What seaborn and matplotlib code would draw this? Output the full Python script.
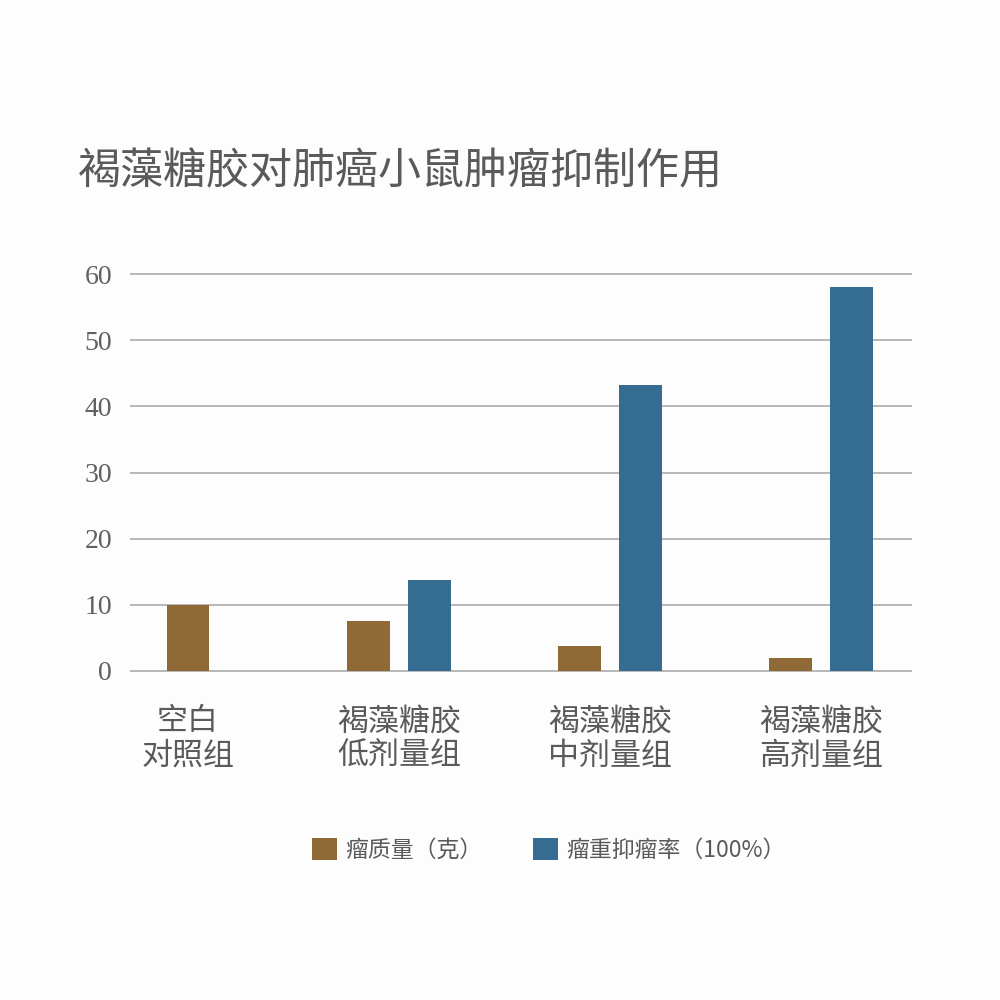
import numpy as np
import pandas as pd
import matplotlib
matplotlib.use("Agg")
import matplotlib.pyplot as plt
import seaborn as sns
from matplotlib.patches import Patch

# ---- data ----
title = "褐藻糖胶对肺癌小鼠肿瘤抑制作用"
categories = ["空白\n对照组", "褐藻糖胶\n低剂量组", "褐藻糖胶\n中剂量组", "褐藻糖胶\n高剂量组"]
series_names = ["瘤质量（克）", "瘤重抑瘤率（100%）"]
tumor_mass = [10.0, 7.5, 3.8, 2.0]
inhibition_rate = [np.nan, 13.7, 43.2, 58.0]
y_ticks = [0, 10, 20, 30, 40, 50, 60]

# ---- style ----
brown = "#8F6A37"
blue = "#356C91"
bg = "#FDFDFD"
text_color = "#5A5A5A"
grid_color = "#ABABAB"

sns.set_theme(style="white")
plt.rcParams["font.family"] = ["Noto Sans CJK SC", "DejaVu Sans"]

fig = plt.figure(figsize=(10, 10), dpi=100, facecolor=bg)
ax = fig.add_axes([0.130, 0.3257, 0.782, 0.4069])
ax.set_facecolor(bg)

paired = [i for i in range(len(categories)) if not np.isnan(inhibition_rate[i])]
single = [i for i in range(len(categories)) if np.isnan(inhibition_rate[i])]

df_pair = pd.DataFrame({
    "group": [categories[i] for i in paired] * 2,
    "series": [series_names[0]] * len(paired) + [series_names[1]] * len(paired),
    "value": [tumor_mass[i] for i in paired] + [inhibition_rate[i] for i in paired],
})
df_single = pd.DataFrame({
    "group": [categories[i] for i in single],
    "value": [tumor_mass[i] for i in single],
})

sns.barplot(data=df_pair, x="group", y="value", hue="series", order=categories,
            hue_order=series_names, palette=[brown, blue], dodge=True,
            width=0.58, gap=0.3, saturation=1, errorbar=None, legend=False,
            linewidth=0, edgecolor="none", ax=ax)
sns.barplot(data=df_single, x="group", y="value", order=categories, color=brown,
            width=0.203, saturation=1, errorbar=None, linewidth=0, edgecolor="none", ax=ax)

ax.set_xlim(-0.275, 3.431)
ax.set_ylim(-0.5, 61)
ax.set_yticks(y_ticks)
ax.set_yticklabels([str(t) for t in y_ticks], fontfamily="Liberation Serif",
                   fontsize=20, color="#606060")
ax.set_xticks(range(len(categories)))
ax.set_xticklabels(categories, fontsize=22.3, color=text_color, linespacing=1.15,
                   fontweight="light")
ax.tick_params(axis="y", length=0, pad=13)
ax.tick_params(axis="x", length=0, pad=23)
ax.set_xlabel("")
ax.set_ylabel("")
for s in ax.spines.values():
    s.set_visible(False)
ax.yaxis.grid(True, color=grid_color, linewidth=1.2)
ax.set_axisbelow(True)

fig.text(0.078, 0.828, title, fontsize=31, color=text_color, va="center", ha="left",
         fontweight="light")

handles = [Patch(facecolor=brown, edgecolor="none"), Patch(facecolor=blue, edgecolor="none")]
fig.legend(handles, series_names, loc="center", bbox_to_anchor=(0.549, 0.150), ncol=2,
           frameon=False, fontsize=16.5, handlelength=1.1, handleheight=1.1,
           handletextpad=0.35, columnspacing=2.2, labelcolor=text_color)

fig.savefig("out.png", dpi=100, facecolor=bg)
